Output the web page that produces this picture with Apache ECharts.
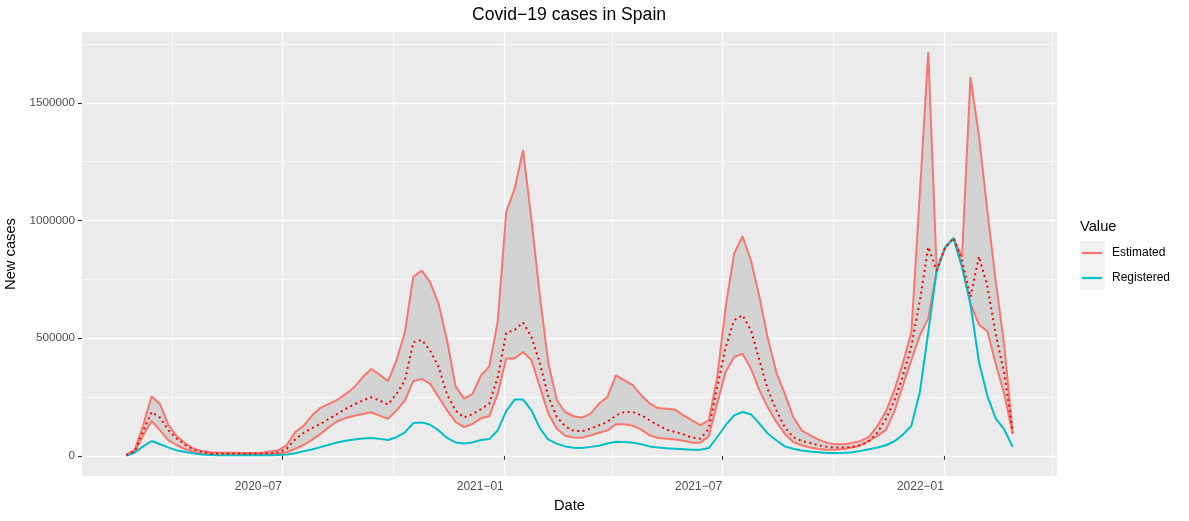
<!DOCTYPE html>
<html>
<head>
<meta charset="utf-8">
<title>Covid-19 cases in Spain</title>
<script src="https://cdn.jsdelivr.net/npm/echarts@6/dist/echarts.min.js"></script>
<style>
  html, body { margin: 0; padding: 0; background: #ffffff; }
  #chart { width: 1189px; height: 521px; }
</style>
</head>
<body>
<div id="chart"></div>
<script>
// weekly series, first week starts on this date (UTC)
var firstWeek = Date.UTC(2020, 1, 23);

// estimated cases: upper bound, central estimate, lower bound
var estUpper = [
  5000, 25000, 130000, 253000, 219000, 130000, 83000, 52000, 30000, 20000,
  15000, 13000, 13000, 13000, 12000, 12000, 13000, 18000, 23000, 45000,
  101000, 127000, 171000, 204000, 221000, 238000, 263000, 291000, 334000, 369000,
  345000, 317000, 405000, 525000, 761000, 787000, 737000, 645000, 490000, 295000,
  243000, 262000, 341000, 380000, 570000, 1035000, 1135000, 1300000, 1000000, 675000,
  392000, 236000, 185000, 168000, 162000, 179000, 222000, 250000, 342000, 321000,
  300000, 257000, 222000, 203000, 200000, 196000, 172000, 151000, 130000, 151000,
  335000, 632000, 859000, 933000, 830000, 675000, 498000, 355000, 264000, 165000,
  108000, 87000, 69000, 55000, 49000, 49000, 55000, 63000, 82000, 128000,
  190000, 280000, 395000, 525000, 1113000, 1715000, 788000, 885000, 925000, 845000,
  1609000, 1360000, 1040000, 740000, 470000, 95000
];
var estCentral = [
  3000, 20000, 105000, 186000, 162000, 108000, 73000, 45000, 26000, 16000,
  10000, 10000, 10000, 10000, 10000, 10000, 10000, 11000, 14000, 30000,
  70000, 97000, 118000, 136000, 157000, 178000, 200000, 218000, 235000, 249000,
  235000, 218000, 263000, 320000, 483000, 492000, 447000, 376000, 260000, 193000,
  163000, 177000, 198000, 222000, 335000, 522000, 535000, 566000, 505000, 392000,
  250000, 165000, 125000, 106000, 105000, 115000, 130000, 144000, 172000, 186000,
  186000, 172000, 151000, 130000, 111000, 101000, 91000, 77000, 73000, 115000,
  292000, 462000, 576000, 597000, 533000, 406000, 280000, 193000, 122000, 80000,
  63000, 55000, 45000, 38000, 35000, 35000, 38000, 45000, 63000, 100000,
  158000, 236000, 340000, 465000, 660000, 887000, 788000, 885000, 925000, 830000,
  675000, 847000, 720000, 515000, 350000, 100000
];
var estLower = [
  2000, 16000, 87000, 148000, 108000, 66000, 45000, 28000, 16000, 10000,
  8000, 8000, 8000, 8000, 8000, 8000, 8000, 8000, 9000, 15000,
  30000, 46000, 68000, 93000, 122000, 147000, 161000, 170000, 178000, 185000,
  171000, 157000, 192000, 235000, 317000, 327000, 306000, 249000, 193000, 144000,
  122000, 135000, 160000, 168000, 264000, 413000, 414000, 441000, 406000, 292000,
  179000, 115000, 85000, 78000, 77000, 87000, 98000, 108000, 134000, 134000,
  128000, 111000, 87000, 76000, 73000, 69000, 64000, 56000, 56000, 83000,
  222000, 356000, 420000, 434000, 370000, 278000, 205000, 145000, 94000, 59000,
  45000, 35000, 29000, 26000, 26000, 29000, 35000, 45000, 65000, 85000,
  110000, 190000, 300000, 406000, 512000, 583000, 788000, 885000, 925000, 802000,
  647000, 557000, 530000, 390000, 262000, 92000
];
// registered cases
var registered = [
  0, 14000, 40000, 63000, 49000, 35000, 23000, 16000, 10000, 6000,
  3000, 2500, 2500, 2500, 2500, 2500, 2500, 2500, 4000, 6000,
  11000, 20000, 27000, 37000, 47000, 57000, 64000, 69000, 74000, 76000,
  72000, 67000, 79000, 100000, 139000, 142000, 132000, 108000, 76000, 57000,
  52000, 57000, 67000, 71000, 108000, 190000, 239000, 239000, 193000, 116000,
  69000, 52000, 40000, 34000, 33000, 38000, 43000, 52000, 60000, 59000,
  56000, 49000, 40000, 35000, 32000, 30000, 28000, 26000, 26000, 33000,
  80000, 130000, 172000, 186000, 176000, 137000, 94000, 66000, 40000, 30000,
  23000, 18000, 15000, 12000, 12000, 13000, 15000, 21000, 28000, 35000,
  45000, 62000, 90000, 128000, 270000, 525000, 788000, 885000, 925000, 802000,
  645000, 400000, 255000, 158000, 112000, 38000
];

// axis breaks
var yTicks = [0, 500000, 1000000, 1500000];
var yMinor = [250000, 750000, 1250000, 1750000];
var xTicks = [Date.UTC(2020, 6, 1), Date.UTC(2021, 0, 1), Date.UTC(2021, 6, 1), Date.UTC(2022, 0, 1)];
var xMinor = [Date.UTC(2020, 3, 1), Date.UTC(2020, 9, 1), Date.UTC(2021, 3, 1), Date.UTC(2021, 9, 1), Date.UTC(2022, 3, 1)];

var DAY = 86400000;
var dates = estUpper.map(function (v, i) { return firstWeek + i * 7 * DAY; });

function pairs(arr) {
  return arr.map(function (v, i) { return [dates[i], v]; });
}

// ggplot-like 5% expansion of the data range
var xSpan = dates[dates.length - 1] - dates[0];
var xMin = dates[0] - xSpan * 0.05;
var xMax = dates[dates.length - 1] + xSpan * 0.05;
var yTop = Math.max.apply(null, estUpper);
var yMin = -yTop * 0.05;
var yMax = yTop * 1.05;

function fmtMonth(v) {
  var d = new Date(v);
  var m = d.getUTCMonth() + 1;
  return d.getUTCFullYear() + '\u2212' + (m < 10 ? '0' + m : m);
}

// grey ribbon between lower and upper estimate, one polygon
function renderRibbon(params, api) {
  var pts = [];
  for (var i = 0; i < dates.length; i++) {
    pts.push(api.coord([dates[i], estUpper[i]]));
  }
  for (var j = dates.length - 1; j >= 0; j--) {
    pts.push(api.coord([dates[j], estLower[j]]));
  }
  return {
    type: 'polygon',
    shape: { points: pts },
    style: { fill: '#D3D3D3' }
  };
}

var FONT = '"Liberation Sans", Arial, sans-serif';

var chart = echarts.init(document.getElementById('chart'));

var option = {
  animation: false,
  backgroundColor: '#ffffff',
  textStyle: { fontFamily: FONT },
  grid: {
    left: 82, right: 132, top: 32, bottom: 45,
    outerBoundsMode: 'none',
    show: true, backgroundColor: '#EBEBEB', borderWidth: 0
  },
  graphic: [
    {
      type: 'text', x: 569, y: 15,
      style: { text: 'Covid\u221219 cases in Spain', fontSize: 17.6, fontFamily: FONT,
        fill: '#000000', align: 'center', verticalAlign: 'middle' }
    },
    {
      type: 'text', x: 1080, y: 227,
      style: { text: 'Value', fontSize: 14.7, fontFamily: FONT,
        fill: '#000000', align: 'left', verticalAlign: 'middle' }
    },
    {
      type: 'rect', z: -1,
      shape: { x: 1080, y: 241, width: 25, height: 49 },
      style: { fill: '#F2F2F2' }
    }
  ],
  legend: {
    data: ['Estimated', 'Registered'],
    orient: 'vertical',
    left: 1082,
    top: 247,
    padding: 0,
    icon: 'rect',
    itemWidth: 20,
    itemHeight: 2.2,
    itemGap: 13,
    textStyle: { fontSize: 12, color: '#000000', fontFamily: FONT, padding: [0, 0, 0, 5] },
    selectedMode: false
  },
  // x values are timestamps on a value axis so that the breaks can be set exactly
  xAxis: [
    {
      type: 'value',
      min: xMin,
      max: xMax,
      name: 'Date',
      nameLocation: 'middle',
      nameGap: 22,
      nameTextStyle: { fontSize: 14.7, color: '#000000', fontFamily: FONT },
      axisLine: { show: false },
      axisTick: { show: true, length: 4, customValues: xTicks, lineStyle: { color: '#333333', width: 1.1 } },
      axisLabel: {
        customValues: xTicks,
        formatter: fmtMonth,
        align: 'right',
        margin: 5,
        fontSize: 12,
        color: '#4D4D4D',
        fontFamily: FONT
      },
      splitLine: { show: true, lineStyle: { color: '#ffffff', width: 1.4 } }
    },
    {
      type: 'value',
      min: xMin,
      max: xMax,
      position: 'bottom',
      axisLine: { show: false },
      axisTick: { show: false, customValues: xMinor },
      axisLabel: { show: false, customValues: xMinor },
      splitLine: { show: true, lineStyle: { color: '#ffffff', width: 0.7 } }
    }
  ],
  yAxis: [
    {
      type: 'value',
      min: yMin,
      max: yMax,
      name: 'New cases',
      nameLocation: 'middle',
      nameRotate: 90,
      nameGap: 55,
      nameTextStyle: { fontSize: 14.7, color: '#000000', fontFamily: FONT },
      axisLine: { show: false },
      axisTick: { show: true, length: 4, customValues: yTicks, lineStyle: { color: '#333333', width: 1.1 } },
      axisLabel: {
        customValues: yTicks,
        formatter: function (v) { return String(v); },
        margin: 7,
        fontSize: 11.7,
        color: '#4D4D4D',
        fontFamily: FONT
      },
      splitLine: { show: true, lineStyle: { color: '#ffffff', width: 1.4 } }
    },
    {
      type: 'value',
      min: yMin,
      max: yMax,
      position: 'left',
      axisLine: { show: false },
      axisTick: { show: false, customValues: yMinor },
      axisLabel: { show: false, customValues: yMinor },
      splitLine: { show: true, lineStyle: { color: '#ffffff', width: 0.7 } }
    }
  ],
  series: [
    {
      name: 'ribbon', type: 'custom', renderItem: renderRibbon,
      data: [[dates[0], estLower[0]]], silent: true, z: 1
    },
    {
      name: 'Estimated', type: 'line', data: pairs(estUpper), symbol: 'none', z: 2,
      itemStyle: { color: '#F8766D' }, lineStyle: { color: '#F8766D', width: 2 }
    },
    {
      name: 'Estimated', type: 'line', data: pairs(estLower), symbol: 'none', z: 2,
      itemStyle: { color: '#F8766D' }, lineStyle: { color: '#F8766D', width: 2 }
    },
    {
      name: 'Registered', type: 'line', data: pairs(registered), symbol: 'none', z: 3,
      itemStyle: { color: '#00BFC4' }, lineStyle: { color: '#00BFC4', width: 2 }
    },
    {
      name: 'central', type: 'line', data: pairs(estCentral), symbol: 'none', z: 4,
      lineStyle: { color: '#FF0000', width: 2, type: [2, 3.5] }
    }
  ]
};

chart.setOption(option);
</script>
</body>
</html>
